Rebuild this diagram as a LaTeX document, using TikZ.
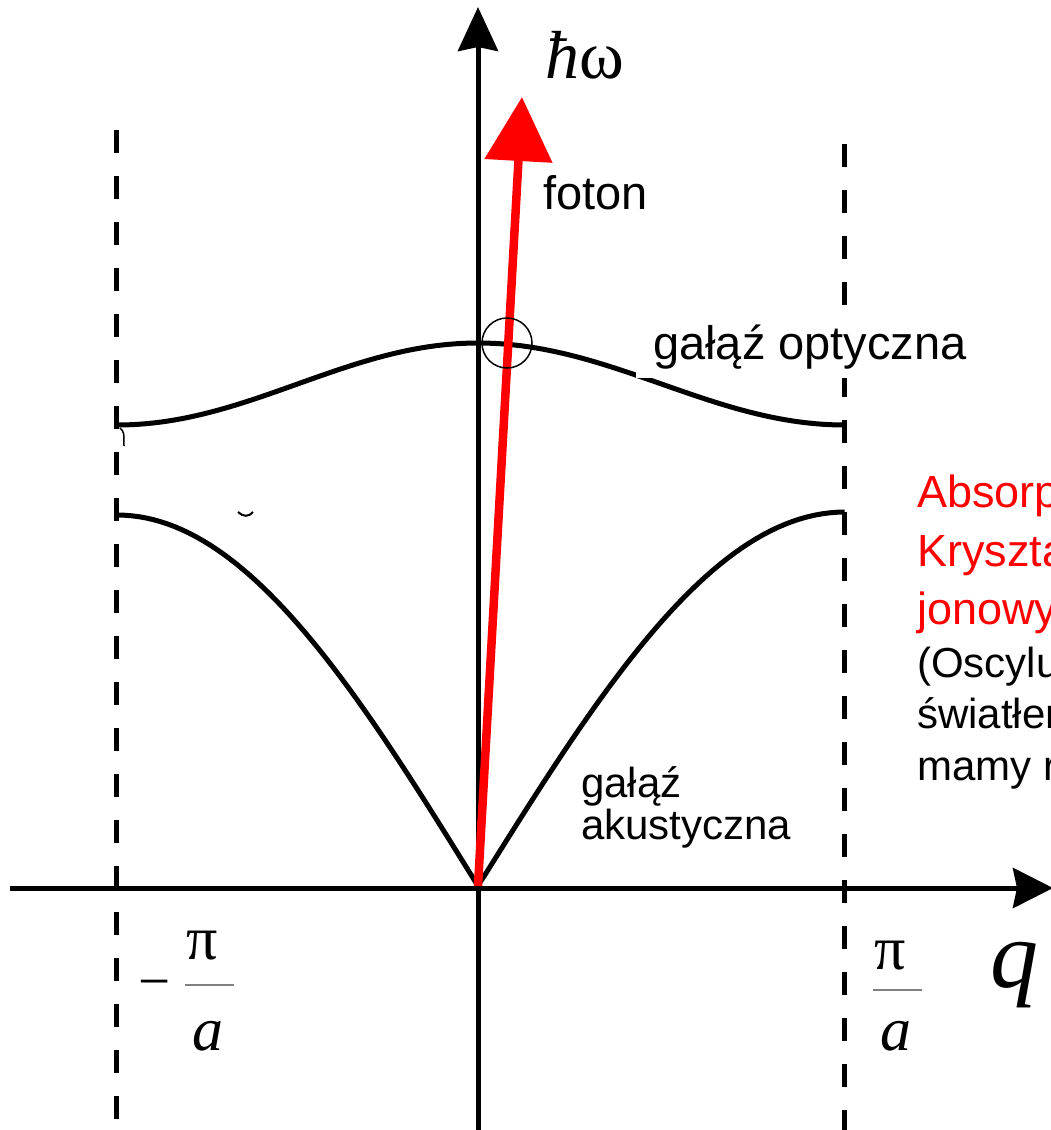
\documentclass[tikz,border=0pt]{standalone}
\usepackage{fontspec}
\setmainfont{Liberation Sans}
\newfontfamily\serifmath{Liberation Serif}
\usetikzlibrary{arrows.meta}
\begin{document}
\begin{tikzpicture}[x=1pt,y=-1pt,
  curve/.style={line width=5pt, line join=round},
  axis/.style={line width=5pt},
  bzline/.style={line width=5pt, dash pattern=on 23pt off 23pt},
  lbl/.style={inner sep=0pt, anchor=base west},
  fracline/.style={line width=1.8pt, gray},
  redtxt/.style={lbl, text=red, font=\fontsize{45}{54}\selectfont},
  blktxt/.style={lbl, font=\fontsize{42}{50}\selectfont}]
\useasboundingbox (0,0) rectangle (1051,1130);
% coordinates
\coordinate (O) at (478,886);
\coordinate (xs) at (10,888);
\coordinate (xe) at (1053,888);
\coordinate (ys) at (478,1130);
\coordinate (ye) at (478,7);
\coordinate (ftip) at (522,97);
\coordinate (lt) at (116.5,130);
\coordinate (lb) at (116.5,1130);
\coordinate (rt) at (844,144);
\coordinate (rb) at (844,1130);
% zone boundaries
\draw[bzline] (lt) -- (lb);
\draw[bzline] (rt) -- (rb);
% branches
\draw[curve] plot[domain=-1:1, samples=101]
  ({478+ifthenelse(\x<0,361,367)*\x},{343+41*(1-cos(180*\x))});
\draw[curve] plot[domain=-1:1, samples=101]
  ({478+ifthenelse(\x<0,361,367)*\x},{886-ifthenelse(\x<0,371,374)*abs(sin(90*\x))});
% small marks
\draw[line width=1.5pt] (120,428) .. controls (124,432) .. (124,446);
\draw[line width=2pt] (238,512) .. controls (243,517) and (249,517) .. (253,512);
% axes
\draw[axis, -{Stealth[length=40pt,width=40pt,inset=4pt]}] (xs) -- (xe);
\draw[axis, -{Stealth[length=44pt,width=40pt,inset=4pt]}] (ys) -- (ye);
% photon
\draw[red, line width=8.5pt, -{Triangle[length=64pt,width=66pt]}] (O) -- (ftip);
\node[draw, circle, line width=1.5pt, minimum size=50pt, inner sep=0pt] (ring) at (507,343) {};
% labels
\node[lbl, font=\serifmath\fontsize{68}{74}\selectfont] (hw) at (545,78) {\itshape ħ\upshape ω};
\node[lbl, font=\fontsize{47}{56}\selectfont] (foton) at (543,209) {foton};
\node[lbl, fill=white, inner xsep=17pt, inner ysep=9pt, font=\fontsize{47}{56}\selectfont] (opt) at (636,359) {gałąź optyczna};
\node[lbl, font=\fontsize{42}{50}\selectfont] (ak1) at (581,797) {gałąź};
\node[lbl, font=\fontsize{42}{50}\selectfont] (ak2) at (581,839) {akustyczna};
% zone edge labels
\node[lbl, font=\serifmath\fontsize{57}{60}\selectfont] (minus) at (138,1000) {−};
\node[lbl, font=\serifmath\fontsize{62}{66}\selectfont] (pil) at (186,959) {π};
\node[lbl, font=\serifmath\itshape\fontsize{62}{70}\selectfont] (al) at (192,1050) {a};
\coordinate (fl1) at (185,985);
\coordinate (fl2) at (234,985);
\draw[fracline] (fl1) -- (fl2);
\node[lbl, font=\serifmath\fontsize{62}{66}\selectfont] (pir) at (874,969) {π};
\node[lbl, font=\serifmath\itshape\fontsize{62}{70}\selectfont] (ar) at (880,1050) {a};
\coordinate (fr1) at (873,990);
\coordinate (fr2) at (922,990);
\draw[fracline] (fr1) -- (fr2);
\node[lbl, font=\serifmath\itshape\fontsize{96}{100}\selectfont] (q) at (990,987) {q};
% side text (cut by the picture edge, as in the reference)
\begin{scope}
\clip (0,0) rectangle (1051,1130);
\node[redtxt] (r1) at (917,507) {Absorpcja};
\node[redtxt] (r2) at (917,566) {Kryształ};
\node[redtxt] (r3) at (917,624) {jonowy};
\node[blktxt] (b1) at (917,677) {(Oscylujące};
\node[blktxt] (b2) at (917,728) {światłem};
\node[blktxt] (b3) at (917,780) {mamy rezonans};
\end{scope}
\end{tikzpicture}
\end{document}
